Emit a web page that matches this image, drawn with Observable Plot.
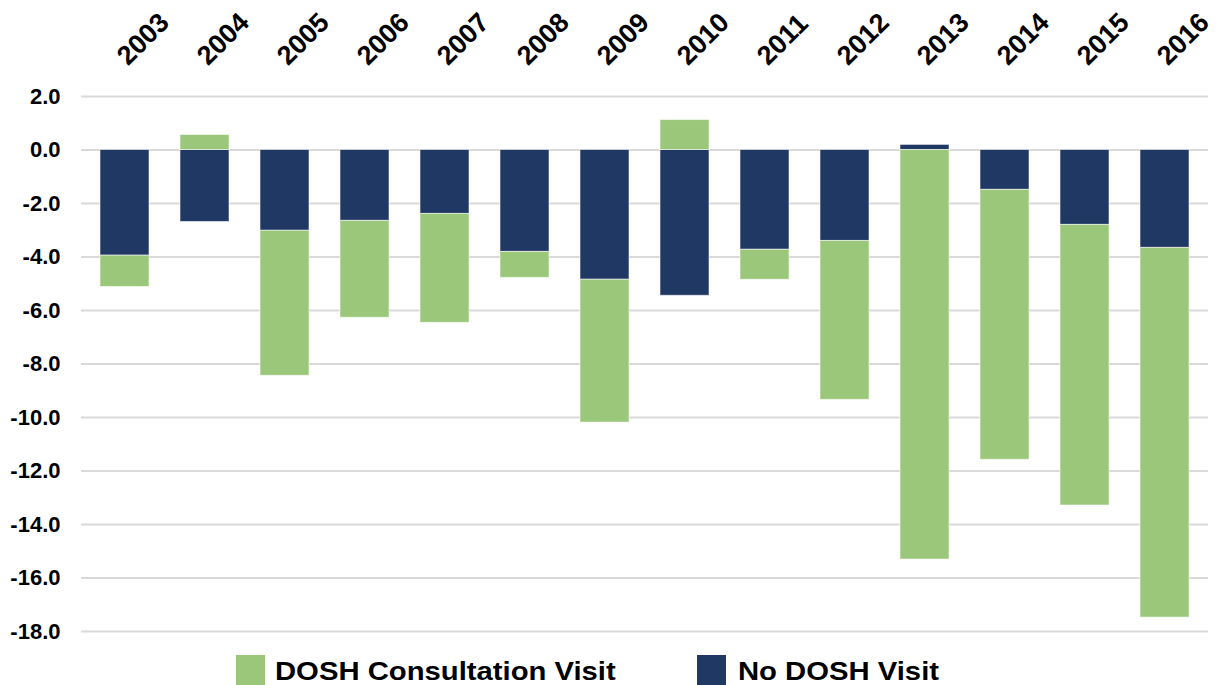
<!DOCTYPE html>
<html>
<head>
<meta charset="utf-8">
<script src="https://cdn.jsdelivr.net/npm/d3@7"></script>
<script src="https://cdn.jsdelivr.net/npm/@observablehq/plot@0.6"></script>
<style>
  html, body { margin: 0; padding: 0; background: #fff; }
  body { width: 1225px; height: 685px; overflow: hidden; position: relative; font-family: "Liberation Sans", Arial, sans-serif; }
  #legend { position: absolute; left: 0; top: 645px; width: 1225px; height: 40px; }
  .sw { position: absolute; width: 29px; height: 30px; top: 10px; }
  .lb { position: absolute; top: 12px; font-size: 25px; font-weight: bold; color: #000; line-height: 28px; white-space: nowrap; transform: scaleX(1.17); transform-origin: 0 50%; }
</style>
</head>
<body>
<div id="chart"></div>
<div id="legend"></div>
<script>
const years = ["2003","2004","2005","2006","2007","2008","2009","2010","2011","2012","2013","2014","2015","2016"];
const noVisit = [-3.95, -2.69, -3.02, -2.65, -2.39, -3.81, -4.85, -5.45, -3.73, -3.40, 0.19, -1.49, -2.80, -3.66];
const consultation = [-1.17, 0.56, -5.42, -3.62, -4.07, -0.97, -5.34, 1.12, -1.12, -5.94, -15.31, -10.09, -10.49, -13.82];
const seriesNames = ["No DOSH Visit", "DOSH Consultation Visit"];
const seriesColors = ["#203864", "#9AC77A"];
const yTicks = [2, 0, -2, -4, -6, -8, -10, -12, -14, -16, -18];

const data = [];
years.forEach((y, i) => {
  data.push({year: y, series: seriesNames[0], value: noVisit[i]});
  data.push({year: y, series: seriesNames[1], value: consultation[i]});
});

const chart = Plot.plot({
  width: 1225,
  height: 645,
  marginTop: 96,
  marginBottom: 14,
  marginLeft: 81,
  marginRight: 17,
  style: {fontFamily: "'Liberation Sans', Arial, sans-serif", background: "#fff"},
  x: {domain: years, paddingInner: 0.39, paddingOuter: 0.195, axis: null},
  y: {domain: [-18, 2], axis: null},
  color: {domain: seriesNames, range: seriesColors},
  marks: [
    Plot.gridY(yTicks, {stroke: "#d9d9d9", strokeOpacity: 1, strokeWidth: 2}),
    Plot.barY(data, Plot.stackY({x: "year", y: "value", fill: "series", z: "series", order: seriesNames, stroke: "#ffffff", strokeOpacity: 0.55, strokeWidth: 1})),
    Plot.axisY(yTicks, {anchor: "left", tickSize: 0, tickPadding: 21, tickFormat: d => d.toFixed(1), fontSize: 22, fontWeight: "bold", fill: "#000", label: null}),
    Plot.axisX({anchor: "top", tickSize: 0, tickPadding: 0, tickRotate: -45, textAnchor: "start", fontSize: 27, fontWeight: "bold", fill: "#000", dy: -36, dx: -3, label: null})
  ]
});
document.getElementById("chart").appendChild(chart);

const legend = document.getElementById("legend");
const items = [
  {name: seriesNames[1], color: seriesColors[1], sx: 236, tx: 275},
  {name: seriesNames[0], color: seriesColors[0], sx: 697, tx: 738}
];
items.forEach(it => {
  const s = document.createElement("div");
  s.className = "sw"; s.style.left = it.sx + "px"; s.style.background = it.color;
  legend.appendChild(s);
  const t = document.createElement("div");
  t.className = "lb"; t.style.left = it.tx + "px"; t.textContent = it.name;
  legend.appendChild(t);
});
</script>
</body>
</html>
